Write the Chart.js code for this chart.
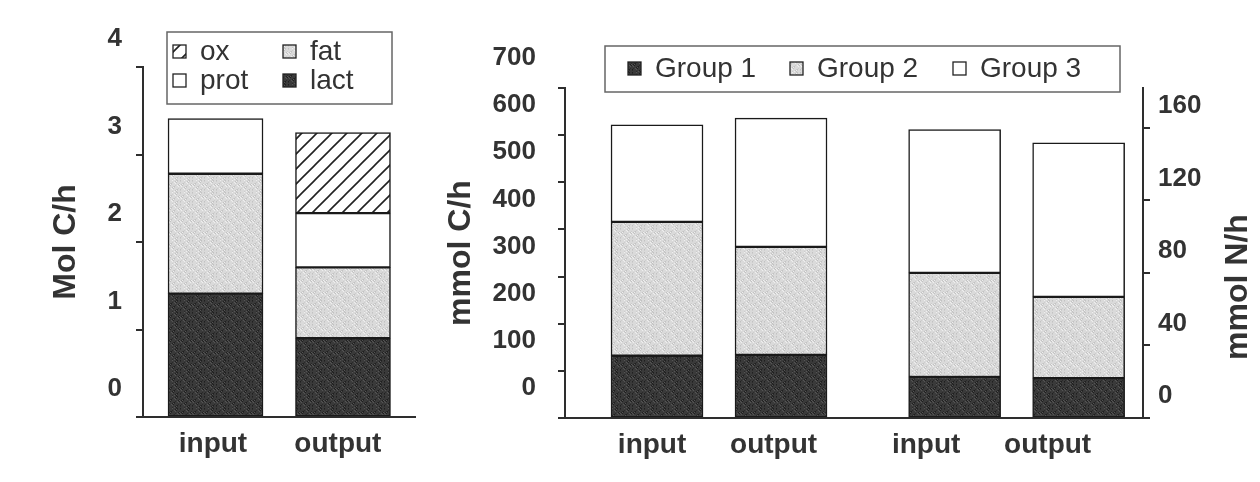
<!DOCTYPE html>
<html>
<head>
<meta charset="utf-8">
<script src="https://cdn.jsdelivr.net/npm/chart.js@4.4.1/dist/chart.umd.min.js"></script>
<style>
  html, body { margin: 0; padding: 0; background: #fff; }
  #wrap { position: relative; width: 1260px; height: 482px; overflow: hidden; }
  canvas { position: absolute; top: 0; }
  #chartA { left: 0; }
  #chartB { left: 440px; }
</style>
</head>
<body>
<div id="wrap">
  <canvas id="chartA" width="440" height="482"></canvas>
  <canvas id="chartB" width="820" height="482"></canvas>
</div>
<script>
// panneau gauche : bilan carbone (Mol C/h)
const catsA = ["input", "output"];
const lact = [1.41, 0.90];
const fat = [1.37, 0.81];
const prot = [0.63, 0.62];
const ox = [null, 0.92];
const ticksA = [0, 1, 2, 3, 4];

// panneau droit : mmol C/h (gauche) et mmol N/h (droite)
const catsB = ["input", "output", "input", "output"];
const group1C = [132, 134];
const group2C = [284, 229];
const group3C = [206, 273];
const group1N = [22.6, 22.0];
const group2N = [57.4, 44.8];
const group3N = [79.0, 85.0];
const ticksC = [0, 100, 200, 300, 400, 500, 600, 700];
const ticksN = [0, 40, 80, 120, 160];

// emplacement des barres / libellés sur les axes x (mise en page)
const slotsA = [0, 1];
const labelSlotsA = [-0.02, 0.96];
const slotsB = [0, 1, 2.4, 3.4];
const labelSlotsB = [-0.04, 0.94, 2.17, 3.15];

const FONT = "'Liberation Sans', Arial, sans-serif";
const INK = "#2e2e2e";

// motifs de remplissage (pointillé / hachures)
function stipple(base, dots) {
  const c = document.createElement("canvas");
  c.width = 12; c.height = 12;
  const g = c.getContext("2d");
  g.fillStyle = base;
  g.fillRect(0, 0, 12, 12);
  for (let i = 0; i < 12; i++) {
    for (let j = 0; j < 12; j++) {
      const k = (i * 7 + j * 11 + i * j * 3) % 9;
      if (k < dots.length) {
        g.fillStyle = dots[k];
        g.fillRect(i, j, 1, 1);
      }
    }
  }
  return g.createPattern(c, "repeat");
}

function hatch() {
  const s = 15;
  const c = document.createElement("canvas");
  c.width = s; c.height = s;
  const g = c.getContext("2d");
  g.fillStyle = "#fff";
  g.fillRect(0, 0, s, s);
  g.strokeStyle = "#222";
  g.lineWidth = 1.6;
  g.beginPath();
  g.moveTo(-2, s + 2); g.lineTo(s + 2, -2);
  g.moveTo(-2, 2); g.lineTo(2, -2);
  g.moveTo(s - 2, s + 2); g.lineTo(s + 2, s - 2);
  g.stroke();
  return g.createPattern(c, "repeat");
}

const darkFill = stipple("#3a3a3a", ["#1f1f1f", "#555", "#2a2a2a"]);
const lightFill = stipple("#dadada", ["#c2c2c2", "#efefef", "#cdcdcd"]);
const whiteFill = "#ffffff";
const hatchFill = hatch();

// légende encadrée dessinée à la main
const boxLegend = {
  id: "boxLegend",
  afterDraw(chart, args, opts) {
    const ctx = chart.ctx;
    ctx.save();
    const [bx, by, bw, bh] = opts.box;
    ctx.strokeStyle = "#666";
    ctx.lineWidth = 1.5;
    ctx.strokeRect(bx, by, bw, bh);
    ctx.font = "28px " + FONT;
    ctx.textBaseline = "middle";
    opts.items.forEach((it) => {
      const ds = chart.data.datasets[it.index];
      ctx.fillStyle = ds.backgroundColor;
      ctx.fillRect(it.x, it.y - 6, 13, 13);
      ctx.strokeStyle = "#222";
      ctx.lineWidth = 1.3;
      ctx.strokeRect(it.x, it.y - 6, 13, 13);
      ctx.fillStyle = "#333";
      ctx.fillText(ds.label, it.x + 27, it.y + 1);
    });
    if (opts.sideTitle) {
      const t = opts.sideTitle;
      ctx.translate(t.x, t.y);
      ctx.rotate(-Math.PI / 2);
      ctx.font = "bold 32px " + FONT;
      ctx.textAlign = "center";
      ctx.textBaseline = "alphabetic";
      ctx.fillStyle = "#333";
      ctx.fillText(t.text, 0, 0);
    }
    ctx.restore();
  },
};

const tickFont = { family: FONT, size: 26, weight: "bold" };
const labelFont = { family: FONT, size: 28, weight: "bold" };
const titleFont = { family: FONT, size: 32, weight: "bold" };

function yAxis(extra) {
  return Object.assign({
    stacked: true,
    border: { display: true, color: INK, width: 2 },
    grid: { drawOnChartArea: false, drawTicks: true, tickLength: 7, color: INK, lineWidth: 2 },
  }, extra);
}

function xAxis(labels, slots, min, max, height) {
  return {
    type: "linear",
    stacked: true,
    offset: false,
    min: min,
    max: max,
    grid: { display: false, offset: false },
    border: { display: true, color: INK, width: 2 },
    afterBuildTicks: (s) => { s.ticks = slots.map((v) => ({ value: v })); },
    ticks: {
      font: labelFont, color: "#333", padding: 2, maxRotation: 0, autoSkip: false,
      callback: (v, i) => labels[i],
    },
    afterFit: (s) => { s.height = height; },
  };
}

const pts = (vals, slots) => vals.map((v, i) => ({ x: slots[i], y: v }));

// ---------------------------------------------------------------
// Panneau gauche
new Chart(document.getElementById("chartA"), {
  type: "bar",
  data: {
    datasets: [
      { label: "lact", data: pts(lact, slotsA), backgroundColor: darkFill },
      { label: "fat", data: pts(fat, slotsA), backgroundColor: lightFill },
      { label: "prot", data: pts(prot, slotsA), backgroundColor: whiteFill },
      { label: "ox", data: pts(ox, slotsA), backgroundColor: hatchFill },
    ].map((d) => Object.assign(d, { borderColor: "#1a1a1a", borderWidth: 1.5, borderSkipped: false, barThickness: 95 })),
  },
  options: {
    responsive: false,
    animation: false,
    devicePixelRatio: 1,
    layout: { padding: { top: 67, right: 25, left: 0, bottom: 0 } },
    plugins: {
      legend: { display: false },
      tooltip: { enabled: false },
      boxLegend: {
        box: [167, 32, 225, 72],
        items: [
          { index: 3, x: 173, y: 51 },
          { index: 1, x: 283, y: 51 },
          { index: 2, x: 173, y: 80 },
          { index: 0, x: 283, y: 80 },
        ],
      },
    },
    scales: {
      x: xAxis(catsA, labelSlotsA, -0.569, 1.565, 65),
      y: yAxis({
        min: 0,
        max: 4,
        afterBuildTicks: (s) => { s.ticks = ticksA.map((v) => ({ value: v })); },
        ticks: { font: tickFont, color: "#333", padding: 14, labelOffset: -28 },
        title: { display: true, text: "Mol C/h", font: titleFont, color: "#333", padding: { top: 47 } },
        afterFit: (s) => { s.width = 143; },
      }),
    },
  },
  plugins: [boxLegend],
});

// ---------------------------------------------------------------
// Panneau droit
const barStyle = { borderColor: "#1a1a1a", borderWidth: 1.5, borderSkipped: false, barThickness: 92, grouped: false };
const slotsC = slotsB.slice(0, 2);
const slotsN = slotsB.slice(2);

new Chart(document.getElementById("chartB"), {
  type: "bar",
  data: {
    datasets: [
      { label: "Group 1", data: pts(group1C, slotsC), backgroundColor: darkFill, stack: "C", yAxisID: "yC" },
      { label: "Group 2", data: pts(group2C, slotsC), backgroundColor: lightFill, stack: "C", yAxisID: "yC" },
      { label: "Group 3", data: pts(group3C, slotsC), backgroundColor: whiteFill, stack: "C", yAxisID: "yC" },
      { label: "Group 1", data: pts(group1N, slotsN), backgroundColor: darkFill, stack: "N", yAxisID: "yN" },
      { label: "Group 2", data: pts(group2N, slotsN), backgroundColor: lightFill, stack: "N", yAxisID: "yN" },
      { label: "Group 3", data: pts(group3N, slotsN), backgroundColor: whiteFill, stack: "N", yAxisID: "yN" },
    ].map((d) => Object.assign(d, barStyle)),
  },
  options: {
    responsive: false,
    animation: false,
    devicePixelRatio: 1,
    layout: { padding: { top: 88, right: 0, left: 0, bottom: 0 } },
    plugins: {
      legend: { display: false },
      tooltip: { enabled: false },
      boxLegend: {
        box: [165, 46, 515, 46],
        items: [
          { index: 0, x: 188, y: 68 },
          { index: 1, x: 350, y: 68 },
          { index: 2, x: 513, y: 68 },
        ],
        sideTitle: { text: "mmol N/h", x: 807, y: 287 },
      },
    },
    scales: {
      x: xAxis(catsB, labelSlotsB, -0.742, 3.919, 64),
      yC: yAxis({
        position: "left",
        min: 0,
        max: 700,
        afterBuildTicks: (s) => { s.ticks = ticksC.map((v) => ({ value: v })); },
        ticks: { font: tickFont, color: "#333", padding: 22, labelOffset: -30 },
        title: { display: true, text: "mmol C/h", font: titleFont, color: "#333", padding: { top: 2 } },
        afterFit: (s) => { s.width = 125; },
      }),
      yN: yAxis({
        position: "right",
        min: 0,
        max: 182,
        afterBuildTicks: (s) => { s.ticks = ticksN.map((v) => ({ value: v })); },
        ticks: { font: tickFont, color: "#333", padding: 8, labelOffset: -22 },
        afterFit: (s) => { s.width = 117; },
      }),
    },
  },
  plugins: [boxLegend],
});
</script>
</body>
</html>
